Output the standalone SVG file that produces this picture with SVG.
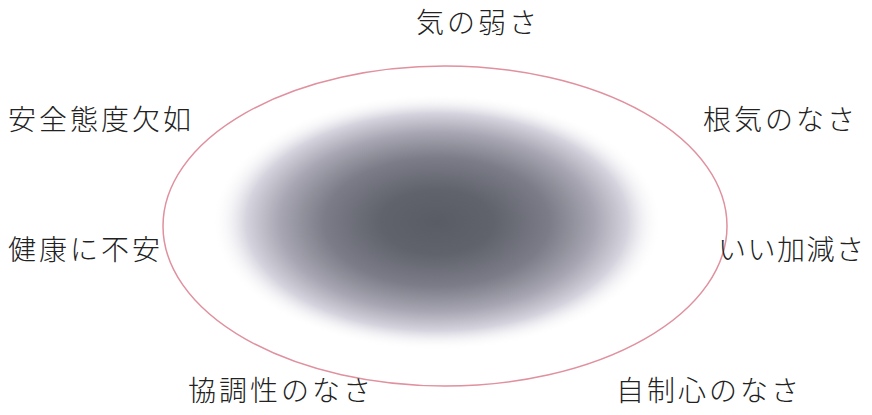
<svg xmlns="http://www.w3.org/2000/svg" width="872" height="415" viewBox="0 0 872 415">
<style>
.lbl{font-family:"Noto Sans CJK JP","Noto Sans CJK SC",sans-serif;font-size:28px;fill:#222;letter-spacing:3px;font-weight:300}
</style>
<defs>
<radialGradient id="blob" gradientUnits="userSpaceOnUse" cx="437" cy="222" r="225" gradientTransform="translate(437 222) scale(1 0.57) translate(-437 -222)">
<stop offset="0" stop-color="#595b65"/>
<stop offset="0.25" stop-color="#60626c"/>
<stop offset="0.5" stop-color="#7b7c87"/>
<stop offset="0.7" stop-color="#a7a6b2"/>
<stop offset="0.85" stop-color="#d6d4de"/>
<stop offset="1" stop-color="#ffffff" stop-opacity="0"/>
</radialGradient>
</defs>
<rect width="872" height="415" fill="#ffffff"/>
<g id="core">
<ellipse cx="437" cy="222" rx="225" ry="129" fill="url(#blob)"/>
</g>
<g id="connectors"/>
<g id="boundary">
<ellipse cx="445" cy="226" rx="282" ry="160" fill="none" stroke="#e0909e" stroke-width="1.5"/>
</g>
<g id="n1"><text class="lbl" x="478" y="33" text-anchor="middle">気の弱さ</text></g>
<g id="n2"><text class="lbl" x="8" y="130">安全態度欠如</text></g>
<g id="n3"><text class="lbl" x="703" y="130">根気のなさ</text></g>
<g id="n4"><text class="lbl" x="8" y="260">健康に不安</text></g>
<g id="n5"><text class="lbl" x="718" y="260" style="letter-spacing:1.5px">いい加減さ</text></g>
<g id="n6"><text class="lbl" x="188" y="401">協調性のなさ</text></g>
<g id="n7"><text class="lbl" x="616" y="401">自制心のなさ</text></g>
</svg>
